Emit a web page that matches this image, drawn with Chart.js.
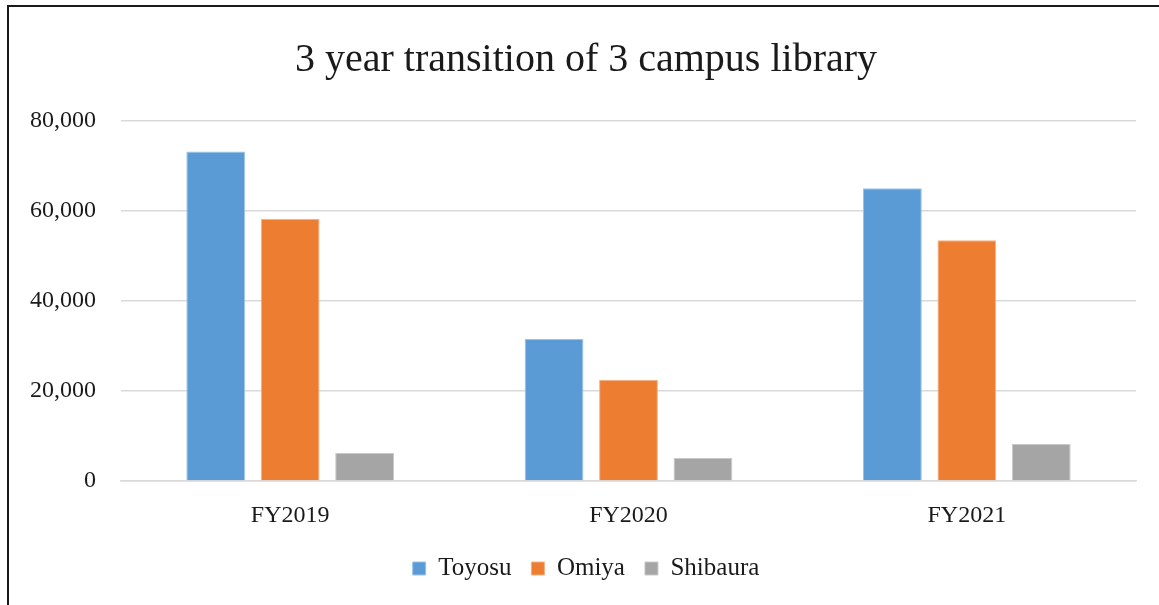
<!DOCTYPE html>
<html>
<head>
<meta charset="utf-8">
<script src="https://cdn.jsdelivr.net/npm/chart.js@4/dist/chart.umd.min.js"></script>
<style>
  html, body { margin: 0; padding: 0; background: #fff; }
  #wrap { position: relative; width: 1159px; height: 605px; overflow: hidden; }
  #frame { position: absolute; left: 7px; top: 5px; width: 1200px; height: 700px;
           border-left: 2px solid #1a1a1a; border-top: 2px solid #1a1a1a; pointer-events: none; }
  canvas { position: absolute; left: 0; top: 0; }
</style>
</head>
<body>
<div id="wrap">
  <canvas id="chart" width="1172" height="605"></canvas>
  <div id="frame"></div>
</div>
<script>
const titleText = "3 year transition of 3 campus library";
const years = ["FY2019", "FY2020", "FY2021"];
const toyosu = [73200, 31550, 65050];
const omiya = [58300, 22450, 53500];
const shibaura = [6250, 5100, 8250];
const yTicks = [0, 20000, 40000, 60000, 80000];

const serif = "'Liberation Serif', 'DejaVu Serif', serif";

function makeSet(label, data, fill, edge) {
  return {
    label: label,
    data: data,
    backgroundColor: fill,
    borderColor: edge,
    borderWidth: 1,
    barPercentage: 0.79,
    categoryPercentage: 0.66
  };
}

new Chart(document.getElementById("chart"), {
  type: "bar",
  data: {
    labels: years,
    datasets: [
      makeSet("Toyosu", toyosu, "#5b9bd5", "#9dc3e6"),
      makeSet("Omiya", omiya, "#ed7d31", "#f4b183"),
      makeSet("Shibaura", shibaura, "#a5a5a5", "#c9c9c9")
    ]
  },
  options: {
    responsive: false,
    animation: false,
    layout: { padding: { left: 0, right: 0, top: 36, bottom: 14 } },
    plugins: {
      title: {
        display: true,
        text: titleText,
        color: "#1a1a1a",
        font: { family: serif, size: 40, weight: "normal" },
        padding: { top: 0, bottom: 37 }
      },
      legend: {
        position: "bottom",
        labels: {
          color: "#1a1a1a",
          font: { family: serif, size: 25 },
          boxWidth: 13,
          boxHeight: 13,
          padding: 20
        }
      },
      tooltip: { enabled: false }
    },
    scales: {
      x: {
        afterFit: (scale) => { scale.height = 55; },
        grid: { display: false, drawTicks: false },
        border: { color: "#d9d9d9", width: 1.5 },
        ticks: { color: "#1a1a1a", font: { family: serif, size: 24 }, padding: 20 }
      },
      y: {
        min: 0,
        max: 80000,
        afterBuildTicks: (scale) => { scale.ticks = yTicks.map(v => ({ value: v })); },
        afterFit: (scale) => { scale.width = 121; },
        grid: { color: "#d9d9d9", lineWidth: 1.5, drawTicks: false },
        border: { display: false },
        ticks: {
          color: "#1a1a1a",
          font: { family: serif, size: 24 },
          padding: 25,
          callback: (v) => v.toLocaleString("en-US")
        }
      },
      // empty right-hand spacer so the title and legend centre where the original does
      spacer: {
        position: "right",
        min: 0,
        max: 1,
        afterFit: (scale) => { scale.width = 36; },
        grid: { display: false, drawTicks: false },
        border: { display: false },
        ticks: { display: false }
      }
    }
  }
});
</script>
</body>
</html>
